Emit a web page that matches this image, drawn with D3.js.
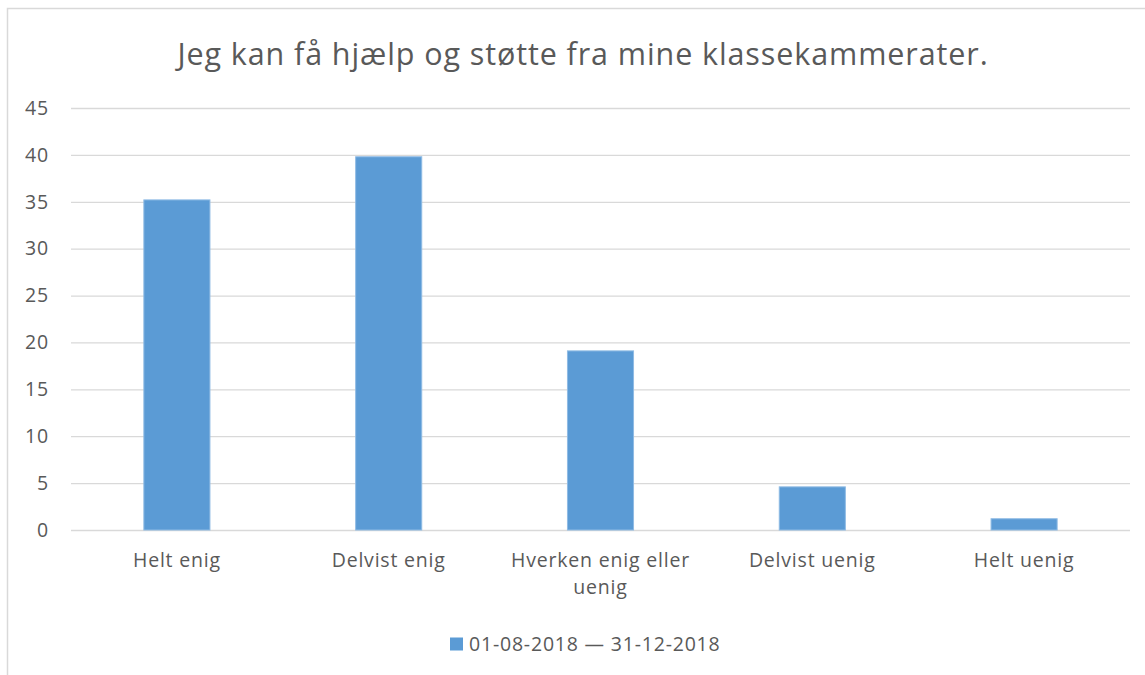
<!DOCTYPE html>
<html>
<head>
<meta charset="utf-8">
<script src="https://cdn.jsdelivr.net/npm/d3@7"></script>
<style>
  html, body { margin: 0; padding: 0; background: #fff; }
  svg { display: block; }
  text { font-family: "Open Sans", sans-serif; fill: #595959; }
  .lbl { font-size: 19.5px; letter-spacing: 0.8px; }
</style>
</head>
<body>
<svg id="chart" width="1145" height="675"></svg>
<script>
// Survey answers (percent of respondents)
const categories = ["Helt enig", "Delvist enig", "Hverken enig eller uenig", "Delvist uenig", "Helt uenig"];
const values = [35.2, 39.8, 19.1, 4.6, 1.2];
const yTicks = [0, 5, 10, 15, 20, 25, 30, 35, 40, 45];
const seriesName = "01-08-2018 \u2014 31-12-2018";
const title = "Jeg kan få hjælp og støtte fra mine klassekammerater.";

const svg = d3.select("#chart");
const W = 1145, H = 675;
const margin = { left: 71, right: 15, top: 108, bottom: 145 };
const plotW = W - margin.left - margin.right;
const plotH = H - margin.top - margin.bottom;

// Outer chart frame
svg.append("rect")
  .attr("x", 7.5).attr("y", 8.5)
  .attr("width", W + 10).attr("height", H + 10)
  .attr("fill", "#fff").attr("stroke", "#d9d9d9").attr("stroke-width", 1.5);

const x = d3.scaleBand().domain(categories).range([0, plotW]).paddingInner(0.688).paddingOuter(0.344);
const y = d3.scaleLinear().domain([0, 45]).range([plotH, 0]);

const g = svg.append("g").attr("transform", `translate(${margin.left},${margin.top})`);

// Horizontal gridlines
g.append("g")
  .call(d3.axisLeft(y).tickValues(yTicks).tickSize(-plotW).tickFormat(""))
  .call(a => a.select(".domain").remove())
  .call(a => a.selectAll("line").attr("stroke", "#d9d9d9").attr("stroke-width", 1.3));

// Y tick labels
g.append("g")
  .call(d3.axisLeft(y).tickValues(yTicks).tickSize(0).tickPadding(22))
  .call(a => a.select(".domain").remove())
  .call(a => a.selectAll("text").attr("class", "lbl").attr("font-size", null).attr("fill", "#595959"));

// Bars
g.selectAll("rect.bar")
  .data(values)
  .join("rect")
  .attr("class", "bar")
  .attr("x", (d, i) => x(categories[i]))
  .attr("y", d => y(d))
  .attr("width", x.bandwidth())
  .attr("height", d => plotH - y(d))
  .attr("fill", "#5b9bd5")
  .attr("stroke", "#8fbbe4")
  .attr("stroke-width", 1);

// Category labels, wrapped to fit the band
const xLabels = g.append("g").attr("transform", `translate(0,${plotH})`);
categories.forEach(c => {
  const lines = c === "Hverken enig eller uenig" ? ["Hverken enig eller", "uenig"] : [c];
  const cx = x(c) + x.bandwidth() / 2;
  const t = xLabels.append("text")
    .attr("class", "lbl")
    .attr("x", cx)
    .attr("y", 37)
    .attr("text-anchor", "middle");
  lines.forEach((l, i) => t.append("tspan").attr("x", cx).attr("dy", i === 0 ? 0 : 27).text(l));
});

// Title
svg.append("text")
  .attr("x", 583).attr("y", 65)
  .attr("text-anchor", "middle")
  .style("font-size", "30.5px")
  .style("letter-spacing", "0.9px")
  .text(title);

// Legend
const legend = svg.append("g").attr("transform", "translate(450,651)");
legend.append("rect").attr("x", 0).attr("y", -13.5).attr("width", 13).attr("height", 13).attr("fill", "#5b9bd5");
legend.append("text").attr("class", "lbl").attr("x", 19).attr("y", 0).text(seriesName);
</script>
</body>
</html>
